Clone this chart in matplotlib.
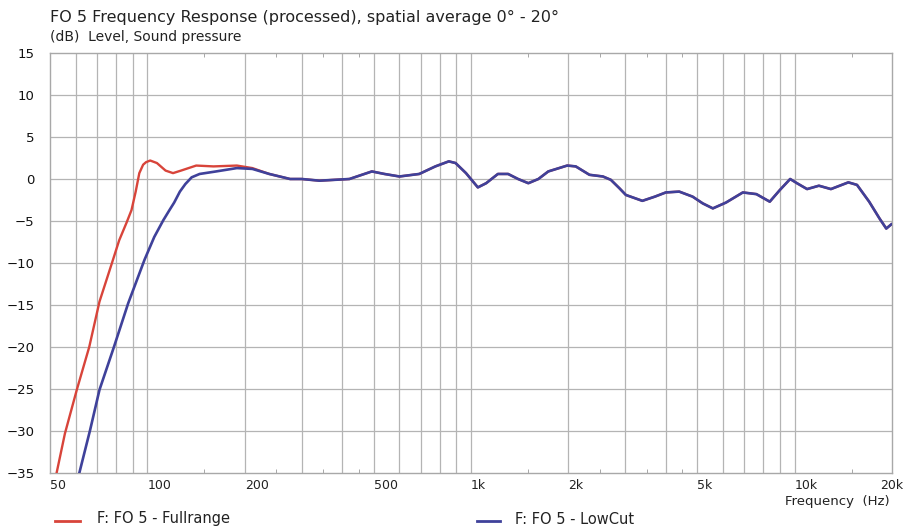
import numpy as np
import matplotlib.pyplot as plt
from matplotlib.lines import Line2D

# Low-frequency roll-off of each variant (Hz, dB)
full_low_freq = [52.4, 55.6, 60.5, 66.1, 71.1, 77.7, 81.8, 86.2, 89.3, 92.0, 94.4, 97.0,
                 99.0, 102.0, 107.0, 113.8, 120.0, 127.0, 141.5, 160.0, 189.0, 211.0, 238.0]
full_low_db = [-35.0, -30.3, -25.1, -20.0, -14.6, -10.0, -7.3, -5.2, -3.7, -1.5, 0.7, 1.7,
               2.0, 2.2, 1.9, 1.0, 0.7, 1.0, 1.6, 1.5, 1.6, 1.3, 0.6]

cut_low_freq = [61.6, 66.5, 71.1, 78.8, 87.2, 98.0, 105.0, 112.0, 117.0, 121.0, 126.0,
                131.0, 137.0, 145.0, 163.0, 189.0, 211.0, 238.0]
cut_low_db = [-35.0, -29.9, -25.1, -20.0, -14.8, -9.6, -6.9, -4.9, -3.7, -2.8, -1.5,
              -0.6, 0.2, 0.6, 0.9, 1.3, 1.2, 0.6]

# Shared part above ~270 Hz
common_freq = [276, 300, 340, 421, 460, 494, 540, 601, 692, 776, 854, 896, 965, 1050,
               1114, 1211, 1302, 1398, 1504, 1615, 1733, 1983, 2107, 2323, 2556, 2705,
               2875, 3010, 3385, 3700, 4000, 4400, 4840, 5200, 5590, 6140, 6920, 7620,
               8380, 9010, 9690, 10170, 10930, 11890, 12950, 14660, 15590, 17000, 18300,
               19200, 19900]
common_db = [0.0, 0.0, -0.2, 0.0, 0.5, 0.9, 0.6, 0.3, 0.6, 1.5, 2.1, 1.9, 0.7, -1.0,
             -0.5, 0.6, 0.6, 0.0, -0.5, 0.0, 0.9, 1.6, 1.5, 0.5, 0.3, -0.1,
             -1.1, -1.9, -2.6, -2.1, -1.6, -1.5, -2.1, -2.9, -3.5, -2.8, -1.6, -1.8,
             -2.7, -1.3, 0.0, -0.5, -1.2, -0.8, -1.2, -0.4, -0.7, -2.7, -4.7,
             -5.9, -5.4]

grid_freqs = [60, 70, 80, 90, 100, 200, 300, 400, 500, 600, 700, 800, 900, 1000,
              2000, 3000, 4000, 5000, 6000, 7000, 8000, 9000, 10000]
label_freqs = [50, 100, 200, 500, 1000, 2000, 5000, 10000, 20000]
label_text = ["50", "100", "200", "500", "1k", "2k", "5k", "10k", "20k"]
minor_freqs = [150, 250, 350, 450, 1500, 2500, 3500, 4500, 15000]
y_ticks = [15, 10, 5, 0, -5, -10, -15, -20, -25, -30, -35]

red = "#d8443a"
blue = "#3f419a"
text_col = "#222222"

fig = plt.figure(figsize=(9.13, 5.29), dpi=100)
ax = fig.add_axes([50 / 913, 56 / 529, 842 / 913, 420 / 529])

ax.set_xscale("log")
ax.set_xlim(50, 20000)
ax.set_ylim(-35, 15)

for f in grid_freqs:
    ax.axvline(f, color="#b4b4b4", lw=0.9, zorder=1)
for v in y_ticks[1:-1]:
    ax.axhline(v, color="#b4b4b4", lw=0.9, zorder=1)

ax.plot(full_low_freq + common_freq, full_low_db + common_db, color=red, lw=1.7, zorder=3)
ax.plot(cut_low_freq + common_freq, cut_low_db + common_db, color=blue, lw=1.9, zorder=4)

ax.set_xticks(label_freqs)
ax.set_xticklabels(label_text)
ax.set_xticks(minor_freqs, minor=True)
ax.tick_params(axis="x", which="major", length=0, pad=4, labelsize=9, labelcolor=text_col)
ax.tick_params(axis="x", which="minor", direction="in", length=3, top=True,
               bottom=True, color="#999999", labelbottom=False)
for lab in ax.get_xticklabels():
    lab.set_horizontalalignment("left")
# last label sits at the right edge; centre it so it stays inside the figure
ax.get_xticklabels()[-1].set_horizontalalignment("center")

ax.set_yticks(y_ticks)
ax.tick_params(axis="y", length=0, pad=11, labelsize=9.5, labelcolor="#111111")

for s in ax.spines.values():
    s.set_color("#a8a8a8")
    s.set_linewidth(1.0)

fig.text(50 / 913, 1 - 17 / 529, "FO 5 Frequency Response (processed), spatial average 0° - 20°",
         fontsize=11.5, va="center", ha="left", color=text_col)
fig.text(50 / 913, 1 - 37 / 529, "(dB)  Level, Sound pressure",
         fontsize=10, va="center", ha="left", color=text_col)
fig.text(890 / 913, 1 - 501 / 529, "Frequency  (Hz)",
         fontsize=9.5, va="center", ha="right", color=text_col)

# legend drawn beneath the axes
fig.add_artist(Line2D([55 / 913, 80 / 913], [1 - 521 / 529, 1 - 521 / 529], color=red, lw=2))
fig.text(97 / 913, 1 - 519 / 529, "F: FO 5 - Fullrange", fontsize=10.5, va="center", ha="left",
         color=text_col)
fig.add_artist(Line2D([477 / 913, 500 / 913], [1 - 521 / 529, 1 - 521 / 529], color=blue, lw=2))
fig.text(515 / 913, 1 - 519 / 529, "F: FO 5 - LowCut", fontsize=10.5, va="center", ha="left",
         color=text_col)

fig.savefig("out.png", dpi=100)
